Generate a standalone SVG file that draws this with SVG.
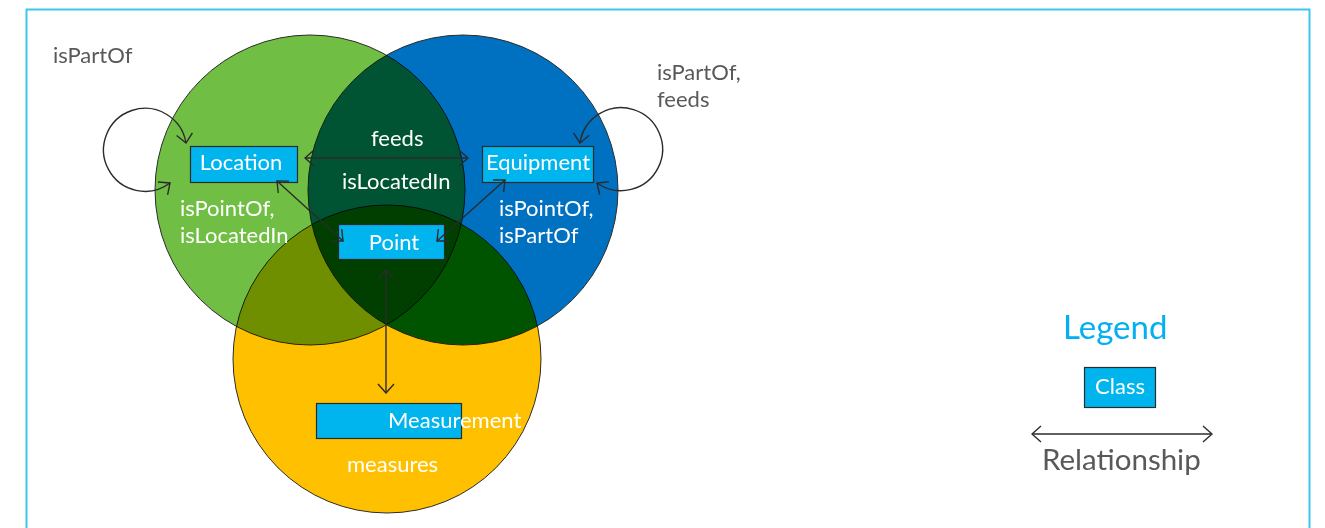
<svg xmlns="http://www.w3.org/2000/svg" width="1325" height="528" viewBox="0 0 1325 528">
  <style>
    .set { stroke: #2b2b2b; stroke-width: 1; mix-blend-mode: multiply; }
    .cls { fill: #00B4EE; stroke: #2b2b2b; stroke-width: 1.2; }
    .lbl { font-family: Lato, "Liberation Sans", sans-serif; font-size: 22px; }
    .w { fill: #ffffff; }
    .g { fill: #595959; }
    .rel { fill: none; stroke: #2b2b2b; stroke-width: 1.4; marker-start: url(#head); marker-end: url(#head); }
  </style>
  <defs>
    <marker id="head" markerUnits="userSpaceOnUse" viewBox="-1 -10 12 20" markerWidth="12" markerHeight="20" refX="10" refY="0" orient="auto-start-reverse">
      <path d="M1,-8 L10,0 L1,8" fill="none" stroke="#2b2b2b" stroke-width="1.4"/>
    </marker>
  </defs>

  <rect x="0" y="0" width="1325" height="528" fill="#ffffff"/>
  <rect x="26.5" y="9.5" width="1283" height="540" fill="none" stroke="#3EC5EE" stroke-width="2"/>

  <!-- overlapping sets, multiplied so the intersections darken -->
  <g id="sets" style="isolation:isolate">
    <circle id="set-location" class="set" cx="310" cy="190" r="155" fill="#70BE44"/>
    <circle id="set-equipment" class="set" cx="463" cy="190" r="155" fill="#0070C0"/>
    <circle id="set-measurement" class="set" cx="387" cy="359" r="154" fill="#FFC000"/>
  </g>

  <!-- relationship labels -->
  <g id="labels" class="lbl">
    <text class="g" x="53" y="63">isPartOf</text>
    <text class="g" x="657" y="80">isPartOf,</text>
    <text class="g" x="657" y="107">feeds</text>
    <text class="w" x="371" y="146">feeds</text>
    <text class="w" x="342" y="189">isLocatedIn</text>
    <text class="w" x="180" y="216">isPointOf,</text>
    <text class="w" x="180" y="243">isLocatedIn</text>
    <text class="w" x="499" y="216">isPointOf,</text>
    <text class="w" x="499" y="243">isPartOf</text>
    <text class="w" x="347" y="472">measures</text>
  </g>

  <!-- classes -->
  <g id="node-location">
    <rect class="cls" x="190.5" y="146.5" width="107" height="36"/>
    <text class="lbl w" x="241" y="170" text-anchor="middle">Location</text>
  </g>
  <g id="node-equipment">
    <rect class="cls" x="482.5" y="146.5" width="111" height="36"/>
    <text class="lbl w" x="538" y="170" text-anchor="middle">Equipment</text>
  </g>
  <g id="node-point">
    <rect class="cls" x="338.5" y="224.5" width="106" height="35"/>
    <text class="lbl w" x="394" y="250" text-anchor="middle">Point</text>
  </g>
  <g id="node-measurement">
    <rect class="cls" x="316.5" y="403.5" width="145" height="35"/>
    <text class="lbl w" x="388" y="428">Measurement</text>
  </g>

  <!-- relationships, drawn over the class boxes -->
  <g id="connectors">
    <path class="rel" d="M170,183 A41.5,41.5 0 1 1 186,143"/>
    <path class="rel" d="M597,183 A41.5,41.5 0 1 0 580,143"/>
    <path class="rel" d="M305,158 L468,158"/>
    <path class="rel" d="M277,181 L343,241"/>
    <path class="rel" d="M505,180 L437,241"/>
    <path class="rel" d="M386,270 L386,393"/>
  </g>

  <!-- legend -->
  <g id="legend">
    <text x="1063" y="339" font-family="Lato, 'Liberation Sans', sans-serif" font-size="33" fill="#00B0F0">Legend</text>
    <g id="legend-class">
      <rect class="cls" x="1084.5" y="367.5" width="71" height="40"/>
      <text class="lbl w" x="1120" y="394" text-anchor="middle">Class</text>
    </g>
    <path class="rel" d="M1032,434 L1212,434"/>
    <text x="1042" y="470" font-family="Lato, 'Liberation Sans', sans-serif" font-size="29.5" fill="#595959">Relationship</text>
  </g>
</svg>
